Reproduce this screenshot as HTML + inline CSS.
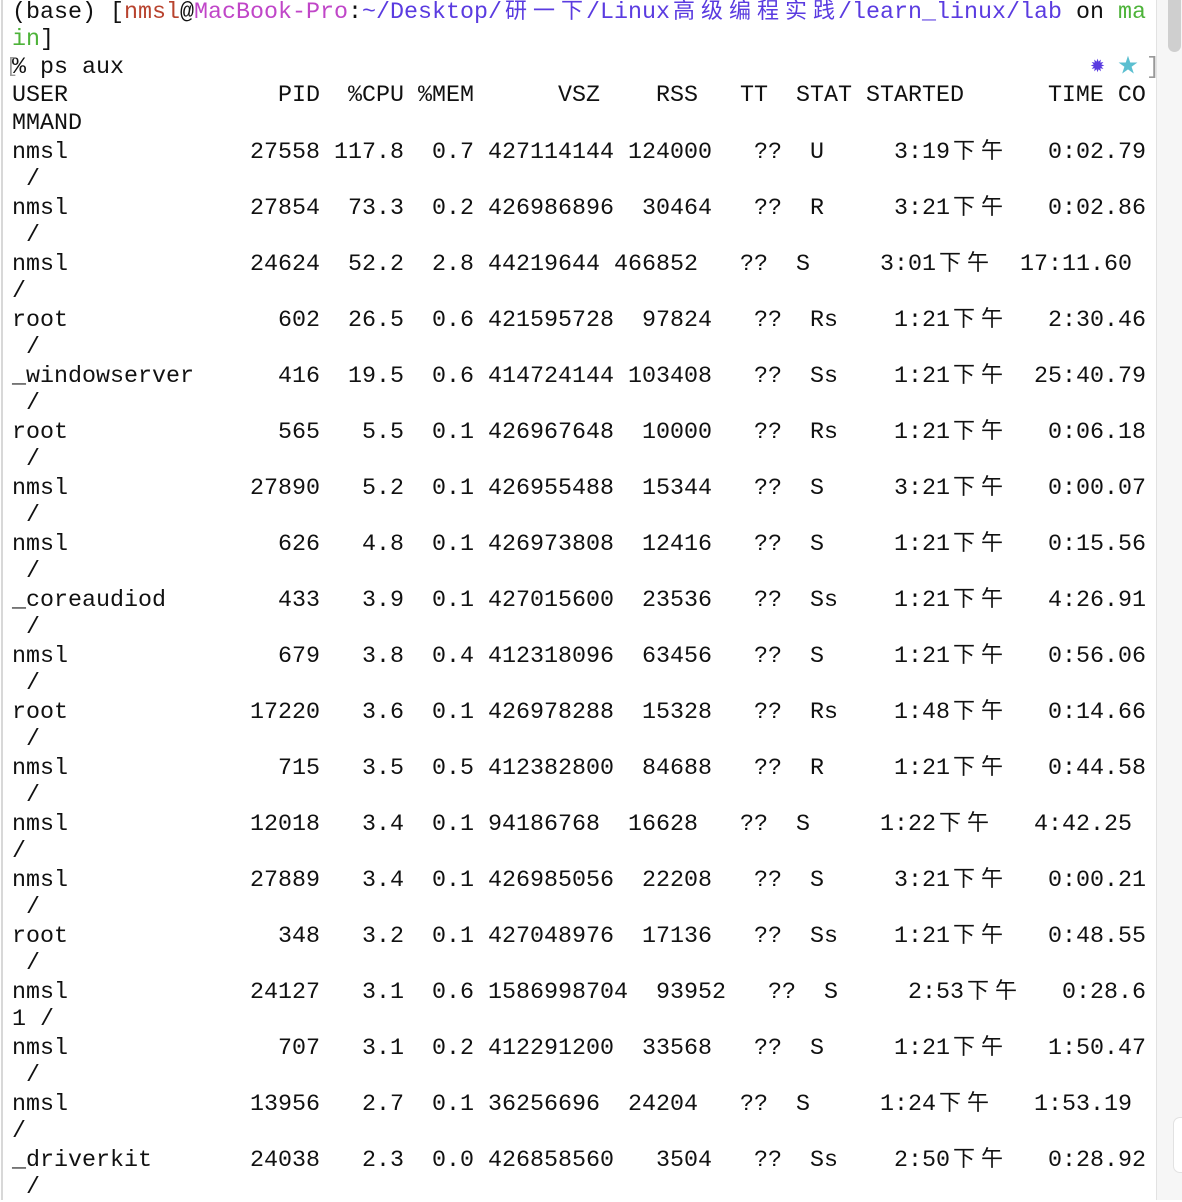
<!DOCTYPE html>
<html><head><meta charset="utf-8">
<style>
html,body{margin:0;padding:0;background:#fff;width:1182px;height:1200px;overflow:hidden;}
#term{position:absolute;left:12px;top:-2px;margin:0;font-family:"Liberation Mono","Noto Sans CJK SC",monospace;font-size:23.33px;line-height:28px;color:#111;}
.ln{height:28px;white-space:pre;overflow:visible;position:relative;}
.cj{display:inline-block;width:28px;text-align:center;font-family:"Noto Sans CJK SC",sans-serif;font-size:22px;line-height:1;vertical-align:baseline;}
.red{color:#b8432e}.mag{color:#c046c8}.blu{color:#5a3be0}.grn{color:#4db339}.gry{color:#999}
#leftline{position:absolute;left:1px;top:0;width:2px;height:1200px;background:#d8d8d8;}
#track{position:absolute;left:1156px;top:0;width:26px;height:1200px;background:#f6f6f6;border-left:1px solid #e2e2e2;}
#thumb{position:absolute;left:1168px;top:-12px;width:13px;height:64px;border-radius:7px;background:#cfcfcf;}
#thumb2{position:absolute;left:1173px;top:1117px;width:14px;height:54px;border-radius:7px;background:#fff;border:1px solid #e2e2e2;}
</style></head><body>
<div id="leftline"></div>
<div id="track"></div>
<div id="thumb"></div>
<div id="thumb2"></div>
<div id="term"><div class="ln">(base) [<span class="red">nmsl</span>@<span class="mag">MacBook-Pro</span>:<span class="blu">~/Desktop/<span class="cj">研</span><span class="cj">一</span><span class="cj">下</span>/Linux<span class="cj">高</span><span class="cj">级</span><span class="cj">编</span><span class="cj">程</span><span class="cj">实</span><span class="cj">践</span>/learn_linux/lab</span> on <span class="grn">ma</span></div><div class="ln"><span class="grn">in</span>]</div><div class="ln"><span class="gry" style="position:absolute;left:-6px;font-size:20px">[</span>% ps aux<span style="position:absolute;left:1078px;color:#5a3be0;font-size:18px">✹</span><span style="position:absolute;left:1106px;color:#5bbfd0;font-size:20px">★</span><span class="gry" style="position:absolute;left:1134px">]</span></div><div id="rows"></div></div>
<script>
const header = ["USER","PID","%CPU","%MEM","VSZ","RSS","TT","STAT","STARTED","TIME","CO"];
const users = ["nmsl","nmsl","nmsl","root","_windowserver","root","nmsl","nmsl","_coreaudiod","nmsl","root","nmsl","nmsl","nmsl","root","nmsl","nmsl","nmsl","_driverkit"];
const pids = ["27558","27854","24624","602","416","565","27890","626","433","679","17220","715","12018","27889","348","24127","707","13956","24038"];
const cpus = ["117.8","73.3","52.2","26.5","19.5","5.5","5.2","4.8","3.9","3.8","3.6","3.5","3.4","3.4","3.2","3.1","3.1","2.7","2.3"];
const mems = ["0.7","0.2","2.8","0.6","0.6","0.1","0.1","0.1","0.1","0.4","0.1","0.5","0.1","0.1","0.1","0.6","0.2","0.1","0.0"];
const vszs = ["427114144","426986896","44219644","421595728","414724144","426967648","426955488","426973808","427015600","412318096","426978288","412382800","94186768","426985056","427048976","1586998704","412291200","36256696","426858560"];
const rsss = ["124000","30464","466852","97824","103408","10000","15344","12416","23536","63456","15328","84688","16628","22208","17136","93952","33568","24204","3504"];
const stats = ["U","R","S","Rs","Ss","Rs","S","S","Ss","S","Rs","R","S","S","Ss","S","S","S","Ss"];
const starts = ["3:19","3:21","3:01","1:21","1:21","1:21","3:21","1:21","1:21","1:21","1:48","1:21","1:22","3:21","1:21","2:53","1:21","1:24","2:50"];
const times = ["0:02.79","0:02.86","17:11.60","2:30.46","25:40.79","0:06.18","0:00.07","0:15.56","4:26.91","0:56.06","0:14.66","0:44.58","4:42.25","0:00.21","0:48.55","0:28.6","1:50.47","1:53.19","0:28.92"];

function esc(s){return s.replace(/[\u4e00-\u9fff]/g,c=>'<span class="cj">'+c+'</span>');}
function build(fields){
  let html="",col=0;
  fields.forEach(([t,c])=>{ if(c>col){html+=" ".repeat(c-col);col=c;} html+=esc(t); col+=[...t].reduce((a,ch)=>a+(/[\u4e00-\u9fff]/.test(ch)?2:1),0); });
  return html;
}
const rowsEl=document.getElementById('rows');
function addLine(html,name){
  const d=document.createElement('div');
  d.className='ln';
  
  
  d.innerHTML=html; rowsEl.appendChild(d);
}
addLine(build([[header[0],0],[header[1],19],[header[2],24],[header[3],29],[header[4],39],[header[5],46],[header[6],52],[header[7],56],[header[8],61],[header[9],74],[header[10],79]]),'header-row');
addLine("MMAND",'header-wrap');
for(let i=0;i<users.length;i++){
  const vl=vszs[i].length;
  let rssEnd=49,tt=53,st=57,sa=63,te=80,cont=" /";
  if(vl===8){rssEnd=48;tt=52;st=56;sa=62;te=79;cont="/";}
  else if(vl===10){rssEnd=50;tt=54;st=58;sa=64;te=80;cont="1 /";}
  const f=[[users[i],0],[pids[i],22-pids[i].length],[cpus[i],28-cpus[i].length],[mems[i],33-mems[i].length],
    [vszs[i],34],[rsss[i],rssEnd+1-rsss[i].length],["??",tt],[stats[i],st],[starts[i]+"下午",sa],[times[i],te+1-times[i].length]];
  addLine(build(f),'process-row');
  addLine(cont,'process-row-wrap');
}
</script>
</body></html>
